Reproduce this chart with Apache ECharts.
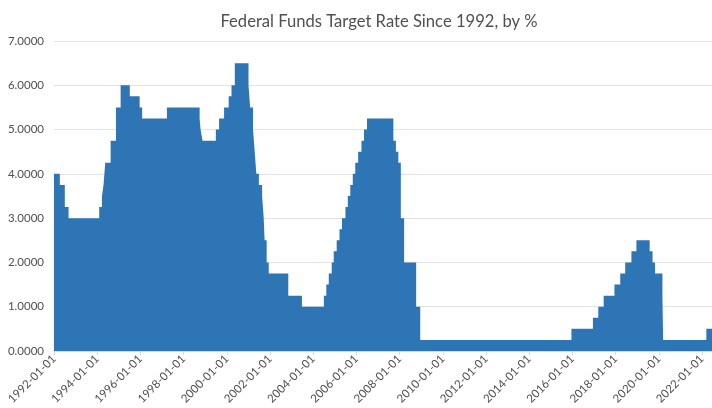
<!DOCTYPE html>
<html>
<head>
<meta charset="utf-8">
<script src="https://cdn.jsdelivr.net/npm/echarts@6/dist/echarts.min.js"></script>
<style>html,body{margin:0;padding:0;background:#fff}#c{width:712px;height:408px}</style>
</head>
<body>
<div id="c"></div>
<script>
// Dates on which the target rate changed, and the new target rate (%)
const changeDates = [
  '1992-01-01','1992-04-09','1992-07-02','1992-09-04',
  '1994-02-04','1994-03-22','1994-04-18','1994-05-17','1994-08-16','1994-11-15',
  '1995-02-01','1995-07-06','1995-12-19','1996-01-31','1997-03-25',
  '1998-09-29','1998-10-15','1998-11-17','1999-06-30','1999-08-24','1999-11-16',
  '2000-02-02','2000-03-21','2000-05-16',
  '2001-01-03','2001-01-31','2001-03-20','2001-04-18','2001-05-15','2001-06-27',
  '2001-08-21','2001-09-17','2001-10-02','2001-11-06','2001-12-11',
  '2002-11-06','2003-06-25',
  '2004-06-30','2004-08-10','2004-09-21','2004-11-10','2004-12-14',
  '2005-02-02','2005-03-22','2005-05-03','2005-06-30','2005-08-09','2005-09-20',
  '2005-11-01','2005-12-13','2006-01-31','2006-03-28','2006-05-10','2006-06-29',
  '2007-09-18','2007-10-31','2007-12-11','2008-01-22','2008-03-18',
  '2008-10-08','2008-10-29','2008-12-16',
  '2015-12-16','2016-12-14','2017-03-15','2017-06-14','2017-12-13',
  '2018-03-21','2018-06-13','2018-09-26','2018-12-19',
  '2019-07-31','2019-09-18','2019-10-30','2020-03-03','2020-03-15',
  '2022-03-16','2022-06-30'
];
const rates = [
  4.00,3.75,3.25,3.00,
  3.25,3.50,3.75,4.25,4.75,5.50,
  6.00,5.75,5.50,5.25,5.50,
  5.25,5.00,4.75,5.00,5.25,5.50,
  5.75,6.00,6.50,
  6.00,5.50,5.00,4.50,4.00,3.75,
  3.50,3.00,2.50,2.00,1.75,
  1.25,1.00,
  1.25,1.50,1.75,2.00,2.25,
  2.50,2.75,3.00,3.25,3.50,3.75,
  4.00,4.25,4.50,4.75,5.00,5.25,
  4.75,4.50,4.25,3.00,2.00,
  1.00,1.00,0.25,
  0.50,0.75,1.00,1.25,1.50,
  1.75,2.00,2.25,2.50,
  2.25,2.00,1.75,1.25,0.25,
  0.50,0.50
];
const yTicks = [0,1,2,3,4,5,6,7];
const xTickYears = [1992,1994,1996,1998,2000,2002,2004,2006,2008,2010,2012,2014,2016,2018,2020,2022];

function decYear(s){
  const d = Date.parse(s + 'T00:00:00Z');
  const y = Number(s.slice(0,4));
  const a = Date.UTC(y,0,1), b = Date.UTC(y+1,0,1);
  return y + (d - a) / (b - a);
}
const data = changeDates.map((d,i)=>[decYear(d), rates[i]]);

const chart = echarts.init(document.getElementById('c'));
const axisFont = {fontFamily:'Lato', fontSize:11.5, color:'#505050'};
chart.setOption({
  animation:false,
  title:{
    text:'Federal Funds Target Rate Since 1992, by %',
    left:374, top:8, textAlign:'center',
    textStyle:{fontFamily:'Lato', fontSize:16.6, fontWeight:'normal', color:'#505050'}
  },
  grid:{left:54, top:41, bottom:57, width:662, containLabel:false},
  xAxis:{
    type:'value', min:1992, max:1992+662/21.73, interval:2,
    axisLine:{show:true, lineStyle:{color:'#d9d9d9'}},
    axisTick:{show:true, length:4, lineStyle:{color:'#d9d9d9'}},
    splitLine:{show:false},
    axisLabel:Object.assign({rotate:45, margin:6, showMaxLabel:false,
      formatter:v=> xTickYears.indexOf(v) >= 0 ? v + '-01-01' : ''}, axisFont)
  },
  yAxis:{
    type:'value', min:yTicks[0], max:yTicks[yTicks.length-1], interval:1,
    axisLine:{show:false}, axisTick:{show:false},
    splitLine:{lineStyle:{color:'#e3e3e3', width:1}},
    axisLabel:Object.assign({margin:10, formatter:v=>v.toFixed(4)}, axisFont)
  },
  series:[{
    type:'line', step:'end', data:data, symbol:'none',
    lineStyle:{width:0}, areaStyle:{color:'#2e75b6', opacity:1},
    silent:true
  }]
});
</script>
</body>
</html>
